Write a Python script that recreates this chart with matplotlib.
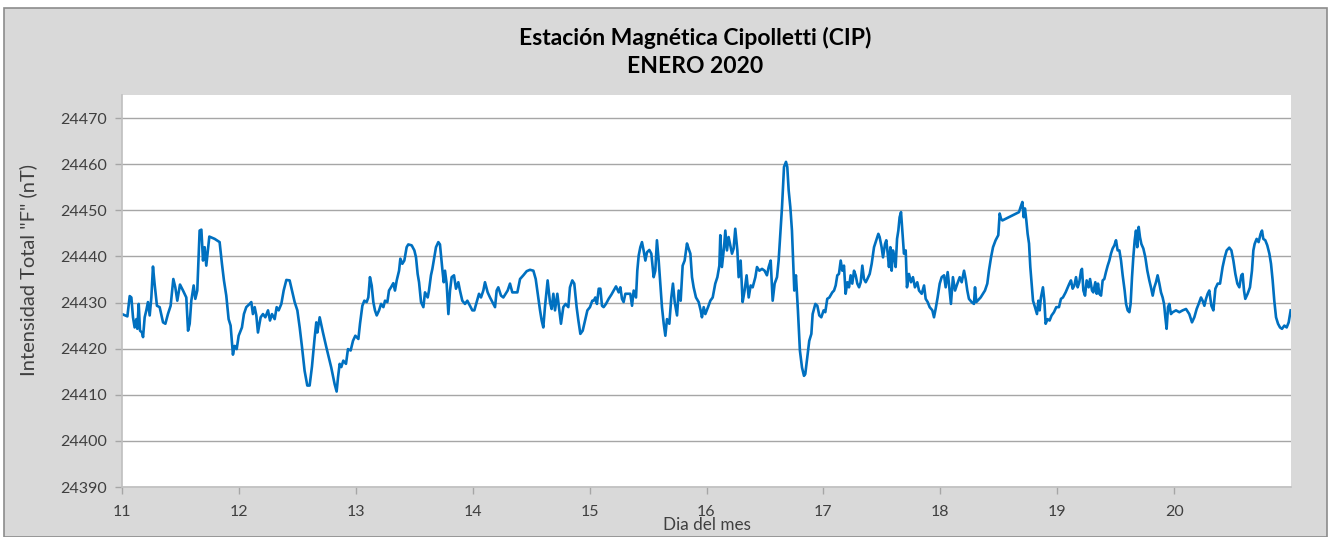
import matplotlib
matplotlib.use("Agg")
import matplotlib.pyplot as plt
from matplotlib.patches import Rectangle

# ---- data ----
dia = [
    11.000, 11.046, 11.066, 11.080, 11.094, 11.108, 11.123, 11.131, 11.143, 11.154,
    11.171, 11.180, 11.194, 11.208, 11.222, 11.237, 11.251, 11.265, 11.279, 11.299,
    11.322, 11.351, 11.371, 11.393, 11.416, 11.439, 11.456, 11.473, 11.496, 11.522,
    11.550, 11.565, 11.579, 11.593, 11.613, 11.627, 11.644, 11.664, 11.679, 11.693,
    11.707, 11.721, 11.736, 11.747, 11.793, 11.835, 11.855, 11.872, 11.892, 11.912,
    11.929, 11.949, 11.964, 11.981, 11.998, 12.026, 12.043, 12.063, 12.092, 12.106,
    12.120, 12.135, 12.149, 12.163, 12.186, 12.206, 12.226, 12.249, 12.266, 12.283,
    12.306, 12.323, 12.340, 12.363, 12.383, 12.406, 12.434, 12.454, 12.477, 12.500,
    12.520, 12.540, 12.562, 12.585, 12.605, 12.625, 12.648, 12.662, 12.671, 12.691,
    12.719, 12.748, 12.790, 12.819, 12.836, 12.848, 12.862, 12.876, 12.893, 12.916,
    12.933, 12.956, 12.976, 12.996, 13.022,
    13.036, 13.056, 13.073, 13.093, 13.107, 13.121, 13.136, 13.150, 13.164, 13.179,
    13.199, 13.216, 13.236, 13.250, 13.270, 13.284, 13.301, 13.321, 13.335, 13.350,
    13.370, 13.381, 13.398, 13.415, 13.435, 13.449, 13.478, 13.501, 13.515, 13.529,
    13.541, 13.558, 13.578, 13.592, 13.615, 13.626, 13.643, 13.655, 13.672, 13.686,
    13.706, 13.720, 13.729, 13.740, 13.752, 13.763, 13.777, 13.792, 13.806, 13.820,
    13.840, 13.857, 13.877, 13.891, 13.911, 13.934, 13.954, 13.977, 13.997, 14.014,
    14.034, 14.054, 14.071, 14.091, 14.105, 14.128, 14.148, 14.168, 14.191, 14.205,
    14.219, 14.242, 14.262, 14.282, 14.299, 14.319, 14.339, 14.362, 14.382, 14.405,
    14.433, 14.462, 14.490, 14.519, 14.539, 14.561, 14.576, 14.590, 14.604, 14.618,
    14.641, 14.661, 14.675, 14.690, 14.704, 14.724, 14.738, 14.755, 14.775, 14.795,
    14.818, 14.832, 14.852, 14.869, 14.889, 14.904, 14.921, 14.941, 14.961, 14.981,
    15.003, 15.023,
    15.035, 15.049, 15.063, 15.078, 15.092, 15.106, 15.120, 15.140, 15.163, 15.186,
    15.206, 15.226, 15.249, 15.263, 15.277, 15.291, 15.306, 15.328, 15.348, 15.363,
    15.377, 15.397, 15.408, 15.420, 15.434, 15.448, 15.462, 15.477, 15.491, 15.511,
    15.528, 15.548, 15.562, 15.576, 15.591, 15.605, 15.619, 15.634, 15.648, 15.662,
    15.682, 15.699, 15.713, 15.728, 15.748, 15.762, 15.779, 15.796, 15.813, 15.833,
    15.847, 15.862, 15.876, 15.890, 15.910, 15.933, 15.950, 15.961, 15.976, 15.990,
    16.013, 16.033, 16.053, 16.075, 16.093, 16.110, 16.118, 16.132, 16.150, 16.161,
    16.175, 16.189, 16.207, 16.218, 16.232, 16.246, 16.264, 16.275, 16.292, 16.309,
    16.326, 16.343, 16.361, 16.378, 16.395, 16.418, 16.432, 16.452, 16.475, 16.497,
    16.517, 16.532, 16.549, 16.566, 16.583, 16.603, 16.617, 16.631, 16.646, 16.663,
    16.680, 16.691, 16.703, 16.717, 16.731, 16.743, 16.751, 16.765, 16.782, 16.799,
    16.817, 16.834, 16.845, 16.862, 16.879, 16.897, 16.908, 16.931, 16.948, 16.965,
    16.982, 17.002, 17.016, 17.033, 17.051,
    17.076, 17.091, 17.105, 17.119, 17.133, 17.148, 17.162, 17.176, 17.190, 17.205,
    17.219, 17.233, 17.247, 17.262, 17.276, 17.290, 17.305, 17.319, 17.333, 17.347,
    17.362, 17.376, 17.396, 17.413, 17.433, 17.447, 17.470, 17.481, 17.498, 17.510,
    17.527, 17.538, 17.550, 17.561, 17.573, 17.584, 17.595, 17.607, 17.618, 17.630,
    17.641, 17.652, 17.664, 17.675, 17.689, 17.704, 17.715, 17.732, 17.749, 17.766,
    17.783, 17.803, 17.818, 17.841, 17.861, 17.875, 17.892, 17.909, 17.932, 17.946,
    17.960, 17.977, 17.995, 18.012, 18.032, 18.046, 18.063, 18.074, 18.091, 18.108,
    18.126, 18.146, 18.166, 18.183, 18.203, 18.217, 18.231, 18.245, 18.268, 18.288,
    18.297, 18.308, 18.345, 18.382, 18.402, 18.416, 18.434, 18.451, 18.473, 18.496,
    18.508, 18.519, 18.531, 18.673, 18.687, 18.702, 18.713, 18.724, 18.736, 18.747,
    18.759, 18.770, 18.781, 18.793, 18.810, 18.827, 18.839, 18.850, 18.861, 18.878,
    18.890, 18.901, 18.918, 18.935, 18.952, 18.972, 18.992, 19.015, 19.032, 19.049,
    19.072,
    19.090, 19.104, 19.118, 19.132, 19.147, 19.161, 19.175, 19.189, 19.204, 19.212,
    19.224, 19.238, 19.252, 19.269, 19.281, 19.298, 19.309, 19.326, 19.338, 19.349,
    19.360, 19.375, 19.389, 19.403, 19.417, 19.432, 19.446, 19.460, 19.474, 19.489,
    19.503, 19.517, 19.532, 19.546, 19.560, 19.577, 19.589, 19.603, 19.617, 19.628,
    19.640, 19.651, 19.663, 19.674, 19.685, 19.697, 19.708, 19.720, 19.737, 19.754,
    19.771, 19.788, 19.802, 19.817, 19.831, 19.845, 19.859, 19.874, 19.888, 19.902,
    19.914, 19.925, 19.936, 19.948, 19.959, 19.973, 19.988, 20.016, 20.045, 20.073,
    20.102, 20.130, 20.153, 20.173, 20.193, 20.210, 20.230, 20.244, 20.259, 20.273,
    20.287, 20.301, 20.319, 20.336, 20.353, 20.373, 20.393, 20.415, 20.433, 20.450,
    20.472, 20.490, 20.507, 20.524, 20.541, 20.558, 20.575, 20.586, 20.598, 20.609,
    20.629, 20.649, 20.666, 20.678, 20.689, 20.706, 20.723, 20.740, 20.752, 20.763,
    20.780, 20.797, 20.815, 20.829, 20.843, 20.857, 20.872, 20.889, 20.906, 20.923,
    20.943, 20.963, 20.980, 20.997,
]

intensidad = [
    24427.5, 24427.0, 24431.4, 24431.1, 24426.8, 24424.6, 24426.4, 24424.3, 24429.7, 24423.9,
    24423.5, 24422.5, 24426.8, 24428.3, 24430.1, 24427.2, 24431.1, 24437.8, 24434.0, 24429.3,
    24429.0, 24425.7, 24425.4, 24427.5, 24429.3, 24435.1, 24433.3, 24430.4, 24433.9, 24432.6,
    24431.1, 24423.9, 24425.4, 24430.4, 24433.7, 24430.8, 24432.6, 24445.6, 24445.8, 24439.1,
    24442.0, 24438.0, 24441.7, 24444.3, 24443.8, 24443.1, 24438.4, 24434.8, 24431.5, 24426.4,
    24425.0, 24418.7, 24420.6, 24419.9, 24422.8, 24424.6, 24427.5, 24429.0, 24429.7, 24430.1,
    24427.5, 24429.0, 24427.2, 24423.5, 24426.8, 24427.5, 24426.8, 24428.3, 24426.1, 24427.5,
    24426.4, 24429.0, 24428.3, 24429.7, 24432.6, 24434.9, 24434.8, 24432.6, 24430.1, 24428.3,
    24424.6, 24420.3, 24415.2, 24412.0, 24412.0, 24416.1, 24422.4, 24425.7, 24423.5, 24426.8,
    24423.5, 24420.3, 24415.9, 24412.3, 24410.7, 24413.8, 24416.7, 24416.0, 24417.4, 24416.7,
    24419.9, 24419.6, 24421.7, 24422.8, 24422.1,
    24425.4, 24429.3, 24430.4, 24430.1, 24431.1, 24435.5, 24433.7, 24430.1, 24428.3, 24427.2,
    24428.3, 24429.7, 24429.0, 24430.4, 24430.1, 24432.6, 24433.3, 24434.2, 24432.6, 24434.8,
    24436.9, 24439.5, 24438.4, 24439.1, 24442.0, 24442.6, 24442.4, 24441.3, 24439.8, 24436.2,
    24434.4, 24430.1, 24429.0, 24432.2, 24431.1, 24432.6, 24435.9, 24437.3, 24439.8, 24442.0,
    24443.1, 24442.6, 24440.2, 24437.3, 24434.4, 24436.9, 24434.1, 24427.5, 24432.6, 24435.5,
    24435.9, 24433.0, 24434.4, 24432.6, 24430.4, 24429.7, 24430.4, 24429.3, 24428.3, 24428.3,
    24430.1, 24431.9, 24431.1, 24432.6, 24434.4, 24432.2, 24431.1, 24430.1, 24429.0, 24432.6,
    24433.3, 24431.5, 24431.1, 24431.9, 24432.6, 24434.1, 24432.2, 24432.2, 24432.2, 24435.1,
    24435.9, 24436.8, 24437.1, 24436.9, 24435.1, 24431.1, 24428.3, 24426.1, 24424.6, 24429.0,
    24434.8, 24430.1, 24428.6, 24431.9, 24428.3, 24431.9, 24429.0, 24425.4, 24429.0, 24429.7,
    24429.0, 24433.3, 24434.8, 24434.1, 24429.0, 24426.1, 24423.2, 24423.9, 24426.1, 24428.3,
    24429.0, 24430.4,
    24430.4, 24431.1, 24429.7, 24433.0, 24433.0, 24429.3, 24429.0, 24429.7, 24430.8, 24431.7,
    24432.6, 24433.5, 24432.2, 24433.3, 24430.8, 24430.1, 24431.9, 24431.9, 24431.9, 24429.3,
    24432.6, 24431.1, 24436.9, 24440.2, 24442.0, 24443.1, 24441.3, 24439.1, 24440.9, 24441.4,
    24440.6, 24435.5, 24436.9, 24443.5, 24439.1, 24434.1, 24429.0, 24425.4, 24422.8, 24426.4,
    24425.4, 24431.1, 24434.1, 24430.1, 24427.2, 24432.6, 24430.4, 24438.0, 24439.1, 24442.8,
    24441.7, 24440.6, 24435.5, 24433.3, 24431.1, 24430.1, 24428.3, 24426.8, 24429.0, 24427.5,
    24429.0, 24430.4, 24431.1, 24434.1, 24435.5, 24438.0, 24444.6, 24437.7, 24442.0, 24445.6,
    24441.3, 24444.2, 24442.0, 24440.6, 24441.7, 24446.0, 24441.3, 24435.5, 24439.1, 24430.1,
    24432.6, 24435.9, 24431.1, 24433.7, 24433.3, 24435.5, 24437.7, 24436.9, 24437.3, 24436.9,
    24435.9, 24437.7, 24439.1, 24430.4, 24434.1, 24435.5, 24439.1, 24444.6, 24450.7, 24459.4,
    24460.5, 24459.4, 24454.3, 24450.7, 24445.6, 24437.7, 24432.6, 24435.9, 24428.3, 24419.6,
    24415.9, 24414.1, 24414.5, 24418.1, 24421.7, 24423.2, 24427.5, 24429.7, 24429.3, 24427.2,
    24426.8, 24428.3, 24427.9, 24430.8, 24431.1,
    24432.2, 24432.6, 24433.7, 24435.9, 24436.2, 24439.1, 24436.9, 24438.0, 24431.9, 24434.4,
    24433.3, 24435.9, 24434.1, 24436.9, 24435.9, 24434.1, 24433.3, 24434.4, 24438.0, 24435.1,
    24434.4, 24435.1, 24436.2, 24438.4, 24442.0, 24443.1, 24444.9, 24444.2, 24442.0, 24439.8,
    24442.7, 24443.5, 24440.6, 24437.7, 24442.0, 24436.9, 24441.3, 24439.8, 24437.7, 24443.8,
    24445.6, 24448.5, 24449.6, 24445.6, 24440.6, 24441.3, 24433.3, 24436.2, 24434.4, 24435.5,
    24433.3, 24434.4, 24432.6, 24431.9, 24433.7, 24430.8, 24430.1, 24429.0, 24428.3, 24426.8,
    24428.6, 24431.1, 24434.1, 24435.5, 24435.9, 24433.3, 24436.6, 24434.1, 24429.7, 24435.5,
    24432.6, 24434.1, 24435.5, 24434.4, 24436.9, 24435.1, 24432.6, 24430.8, 24430.1, 24429.7,
    24433.3, 24430.1, 24431.1, 24432.6, 24434.1, 24436.9, 24439.8, 24442.0, 24443.5, 24444.6,
    24449.3, 24448.2, 24447.8, 24449.6, 24450.7, 24451.8, 24448.5, 24450.4, 24447.8, 24444.9,
    24442.8, 24437.7, 24434.1, 24430.4, 24429.0, 24427.5, 24430.4, 24428.3, 24431.1, 24433.3,
    24430.4, 24425.4, 24426.4, 24426.1, 24427.2, 24427.9, 24429.0, 24429.0, 24430.8, 24431.1,
    24432.2,
    24433.3, 24434.1, 24434.8, 24433.0, 24433.7, 24435.5, 24433.3, 24434.4, 24436.9, 24437.3,
    24432.6, 24431.5, 24434.8, 24433.3, 24435.1, 24432.6, 24432.2, 24434.4, 24431.9, 24434.1,
    24431.9, 24431.5, 24434.8, 24435.1, 24436.6, 24438.0, 24439.1, 24440.6, 24441.7, 24442.4,
    24443.5, 24441.3, 24441.3, 24439.1, 24435.9, 24432.6, 24429.7, 24428.3, 24427.9, 24429.7,
    24435.5, 24439.8, 24443.5, 24445.6, 24442.0, 24446.4, 24444.2, 24442.7, 24441.7, 24439.8,
    24436.9, 24434.8, 24433.3, 24431.5, 24433.3, 24434.4, 24435.9, 24434.1, 24432.2, 24431.1,
    24429.7, 24426.8, 24424.3, 24429.0, 24429.7, 24427.5, 24427.9, 24428.3, 24427.9, 24428.3,
    24428.6, 24427.5, 24425.7, 24426.8, 24428.6, 24429.7, 24431.1, 24430.4, 24429.3, 24430.8,
    24431.9, 24432.6, 24429.3, 24428.3, 24433.0, 24434.1, 24434.1, 24437.7, 24439.8, 24441.3,
    24441.9, 24441.3, 24439.1, 24436.2, 24434.1, 24433.3, 24435.9, 24436.2, 24432.6, 24430.8,
    24431.9, 24433.3, 24436.9, 24441.3, 24442.7, 24443.8, 24443.1, 24444.9, 24445.6, 24443.8,
    24443.5, 24442.4, 24440.6, 24438.4, 24434.8, 24430.4, 24426.8, 24425.4, 24424.6, 24424.3,
    24425.0, 24424.6, 24425.7, 24428.3,
]

x_ticks = [11, 12, 13, 14, 15, 16, 17, 18, 19, 20]
y_ticks = [24390, 24400, 24410, 24420, 24430, 24440, 24450, 24460, 24470]

titulo = "Estación Magnética Cipolletti (CIP)\nENERO 2020"
etiqueta_y = 'Intensidad Total "F" (nT)'
etiqueta_x = "Dia del mes"

# ---- figure ----
W, H = 1330, 537
plt.rcParams["font.family"] = ["Lato", "DejaVu Sans"]
fig = plt.figure(figsize=(W / 100, H / 100), dpi=100, facecolor="white")

# outer grey chart area with border (behind the axes)
fig.patches.append(Rectangle((4 / W, 0), (1327 - 4) / W, 1 - 8 / H,
                             transform=fig.transFigure, facecolor="#D9D9D9",
                             edgecolor="#8C8C8C", linewidth=1.2, zorder=-5))

ax = fig.add_axes([122 / W, 1 - 487 / H, (1291 - 122) / W, (487 - 95) / H])
ax.set_zorder(2)
ax.set_facecolor("white")
ax.plot(dia, intensidad, color="#0070C0", linewidth=1.9, solid_joinstyle="round")

ax.set_xlim(11, 21)
ax.set_ylim(24390, 24475)
ax.set_xticks(x_ticks)
ax.set_yticks(y_ticks)
ax.set_xticklabels([str(t) for t in x_ticks])
ax.set_yticklabels([str(t) for t in y_ticks])

ax.grid(axis="y", color="#A6A6A6", linewidth=1.0)
ax.set_axisbelow(True)
for s in ["top", "right"]:
    ax.spines[s].set_visible(False)
ax.spines["left"].set_color("#BFBFBF")
ax.spines["bottom"].set_color("#BFBFBF")
ax.spines["left"].set_linewidth(1.2)
ax.spines["bottom"].set_linewidth(1.2)
ax.tick_params(axis="both", direction="out", colors="#A6A6A6", length=5,
               width=1, labelcolor="#404040", labelsize=11.5)
ax.tick_params(axis="x", pad=8)
ax.tick_params(axis="y", pad=6)

fig.text(695 / W, 1 - 52 / H, titulo, ha="center", va="center",
         fontsize=16.5, fontweight="bold", color="black", linespacing=1.4)
fig.text(28 / W, 1 - 270 / H, etiqueta_y, rotation=90, ha="center",
         va="center", fontsize=14.5, color="#404040")
fig.text(707 / W, 1 - 525 / H, etiqueta_x, ha="center", va="center",
         fontsize=12.3, color="#404040")

fig.savefig("out.png", dpi=100, facecolor="white")
